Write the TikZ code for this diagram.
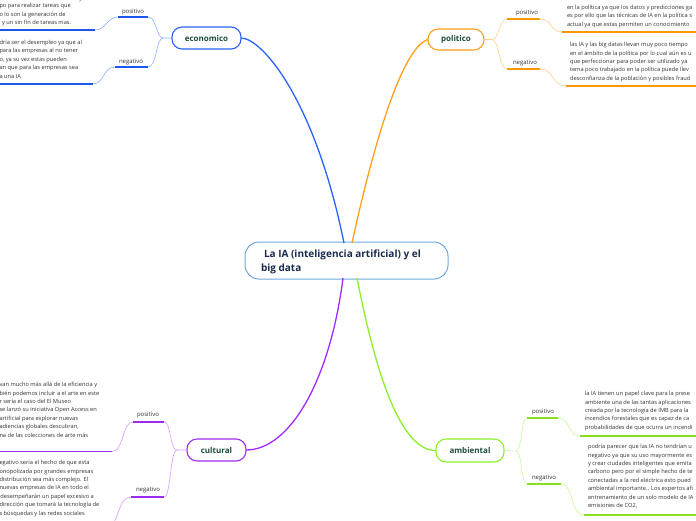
\documentclass[tikz,border=0pt]{standalone}
\usepackage{fontspec}
\setmainfont{Open Sans}
\definecolor{ecoMain}{HTML}{2962FF}
\definecolor{ecoBr}{HTML}{8AAEFF}
\definecolor{ecoUl}{HTML}{1E56F0}
\definecolor{polMain}{HTML}{FF9F1A}
\definecolor{polBr}{HTML}{FFD08A}
\definecolor{polUl}{HTML}{FF9800}
\definecolor{culMain}{HTML}{A12BFF}
\definecolor{culBr}{HTML}{D79BFF}
\definecolor{culUl}{HTML}{9A2BEF}
\definecolor{ambMain}{HTML}{8CF02A}
\definecolor{ambBr}{HTML}{C8F79A}
\definecolor{ambUl}{HTML}{86E01E}
\definecolor{rootBorder}{HTML}{6FA8DC}
\definecolor{rootText}{HTML}{1A2B4C}
\definecolor{topicText}{HTML}{1D4D3B}
\definecolor{bodyText}{HTML}{333333}
\begin{document}
\begin{tikzpicture}[x=1pt,y=-1pt,
  every node/.style={inner sep=0pt, outer sep=0pt},
  topic/.style={draw, rounded corners=10pt, line width=1.1pt, fill=white,
    font=\fontsize{8}{10}\selectfont\bfseries, text=topicText},
  lbl/.style={font=\fontsize{6}{7}\selectfont, text=bodyText, anchor=base},
  body/.style={font=\fontsize{5.7}{8.4}\selectfont, text=bodyText, align=left, anchor=north west},
  mainline/.style={line width=1.3pt},
  brline/.style={line width=0.6pt},
  ulline/.style={line width=1.3pt}
]
\useasboundingbox (0,0) rectangle (696,520);

% ---------- root ----------
\node[draw=rootBorder, line width=1pt, rounded corners=14pt, fill=white,
  minimum width=203pt, minimum height=37pt] (root) at (346.5,260.5) {};
\node[anchor=west, align=left, text=rootText,
  font=\fontsize{10}{14}\selectfont\bfseries] (rootTxt) at (261,261.5)
  {\hspace*{3pt}La IA (inteligencia artificial) y el\\big data};

% ---------- topics ----------
\node[topic, draw=ecoMain, minimum width=69pt, minimum height=22pt] (eco) at (206.5,38) {economico};
\node[topic, draw=polMain, minimum width=56pt, minimum height=21pt] (pol) at (456,39.5) {politico};
\node[topic, draw=culMain, minimum width=59pt, minimum height=22pt] (cul) at (216.5,450) {cultural};
\node[topic, draw=ambMain, minimum width=68pt, minimum height=23pt] (amb) at (470,450.5) {ambiental};

% ---------- main connectors ----------
\coordinate (rEco) at (344,243);
\coordinate (rPol) at (352,243);
\coordinate (rCul) at (343,278);
\coordinate (rAmb) at (357,278);
\draw[mainline, ecoMain] (rEco) .. controls (315,100) and (262,38) .. (eco.east);
\draw[mainline, polMain] (rPol) .. controls (370,160) and (400,48) .. (pol.west);
\draw[mainline, culMain] (rCul) .. controls (330,380) and (290,450) .. (cul.east);
\draw[mainline, ambMain] (rAmb) .. controls (375,370) and (400,451) .. (amb.west);

% ---------- economico branches ----------
\coordinate (ecoF) at (163,38);
\coordinate (ecopR) at (148,17); \coordinate (ecopL) at (118,17);
\coordinate (econR) at (148,67); \coordinate (econL) at (115,67);
\coordinate (ecopT) at (95,30);  \coordinate (ecopE) at (0,30);
\coordinate (econT) at (93,84);  \coordinate (econE) at (0,84);
\draw[brline, ecoBr] (eco.west) -- (ecoF) .. controls (156,38) and (157,17) .. (ecopR);
\draw[brline, ecoBr] (ecoF) .. controls (156,38) and (157,67) .. (econR);
\draw[ulline, ecoUl] (ecopR) -- (ecopL);
\draw[ulline, ecoUl] (econR) -- (econL);
\draw[brline, ecoBr] (ecopL) .. controls (107,17) and (106,30) .. (ecopT);
\draw[brline, ecoBr] (econL) .. controls (103,67) and (104,84) .. (econT);
\draw[ulline, ecoUl] (ecopT) -- (ecopE);
\draw[ulline, ecoUl] (econT) -- (econE);
\node[lbl] (ecopLab) at (133,13) {positivo};
\node[lbl] (econLab) at (131,63) {negativo};
\node[body, anchor=base west] (ecopY) at (79,0.5) {y};
\node[body] (ecopTxt) at (-0.5,3.3) {po para realizar tareas que\\o lo son la generación de\\\hspace*{2.5pt}y un sin fin de tareas mas.};
\node[body] (econTxt) at (-0.5,40.2) {dría ser el desempleo ya que al\\para las empresas al no tener\\o, ya su vez estas pueden\\an que para las empresas sea\\a una IA};

% ---------- politico branches ----------
\coordinate (polF) at (492,39.5);
\coordinate (polpL) at (507,19); \coordinate (polpR) at (540,19);
\coordinate (polnL) at (507,69); \coordinate (polnR) at (540,69);
\coordinate (polpT) at (562,32); \coordinate (polpE) at (696,32);
\coordinate (polnT) at (566,86); \coordinate (polnE) at (696,86);
\draw[brline, polBr] (pol.east) -- (polF) .. controls (499,39.5) and (499,19) .. (polpL);
\draw[brline, polBr] (polF) .. controls (499,39.5) and (499,69) .. (polnL);
\draw[ulline, polUl] (polpL) -- (polpR);
\draw[ulline, polUl] (polnL) -- (polnR);
\draw[brline, polBr] (polpR) .. controls (552,19) and (550,32) .. (polpT);
\draw[brline, polBr] (polnR) .. controls (554,69) and (552,86) .. (polnT);
\draw[ulline, polUl] (polpT) -- (polpE);
\draw[ulline, polUl] (polnT) -- (polnE);
\node[lbl] (polpLab) at (527,14) {positivo};
\node[lbl] (polnLab) at (525,64) {negativo};
\node[body] (polpTxt) at (567,4.9) {en la política ya que los datos y predicciones ga\\es por ello que las técnicas de IA en la política s\\actual ya que estas permiten un conocimiento};
\node[body] (polnTxt) at (570,42.4) {las IA y las big datas llevan muy poco tiempo\\en el ámbito de la política por lo cual aún es u\\que perfeccionar para poder ser utilizado ya\\tema poco trabajado en la política puede llev\\desconfianza de la población y posibles fraud};

% ---------- cultural branches ----------
\coordinate (culF) at (177,450);
\coordinate (culpR) at (164,422); \coordinate (culpL) at (133,422);
\coordinate (culnR) at (164,497); \coordinate (culnL) at (131,497);
\coordinate (culpT) at (112,451.5); \coordinate (culpE) at (0,451.5);
\coordinate (culnT) at (108,530);
\draw[brline, culBr] (cul.west) -- (culF) .. controls (170,450) and (171,422) .. (culpR);
\draw[brline, culBr] (culF) .. controls (170,450) and (171,497) .. (culnR);
\draw[ulline, culUl] (culpR) -- (culpL);
\draw[ulline, culUl] (culnR) -- (culnL);
\draw[brline, culBr] (culpL) .. controls (122,422) and (124,451.5) .. (culpT);
\draw[brline, culBr] (culnL) .. controls (118,497) and (120,520) .. (culnT);
\draw[ulline, culUl] (culpT) -- (culpE);
\node[lbl] (culpLab) at (148,416) {positivo};
\node[lbl] (culnLab) at (148,491) {negativo};
\node[body] (culpTxt) at (-0.5,382.4) {van mucho más allá de la eficiencia y\\bién podemos incluir a el arte en este\\r sería el caso del El Museo\\se lanzó su iniciativa Open Access en\\artificial para explorar nuevas\\adiencias globales descubran,\\na de las colecciones de arte más};
\node[body] (culnTxt) at (-0.5,460.4) {egativo sería el hecho de que esta\\onopolizada por grandes empresas\\distribución sea más complejo. El\\nuevas empresas de IA en todo el\\\hspace*{1pt}desempeñarán un papel excesivo a\\dirección que tomará la tecnología de\\s búsquedas y las redes sociales};

% ---------- ambiental branches ----------
\coordinate (ambF) at (516,451);
\coordinate (ambpL) at (527,418); \coordinate (ambpR) at (558,418);
\coordinate (ambnL) at (527,484); \coordinate (ambnR) at (561,484);
\coordinate (ambpT) at (580,436); \coordinate (ambpE) at (696,436);
\coordinate (ambnT) at (584,515); \coordinate (ambnE) at (696,515);
\draw[brline, ambBr] (amb.east) -- (ambF) .. controls (522,451) and (521,418) .. (ambpL);
\draw[brline, ambBr] (ambF) .. controls (522,451) and (521,484) .. (ambnL);
\draw[ulline, ambUl] (ambpL) -- (ambpR);
\draw[ulline, ambUl] (ambnL) -- (ambnR);
\draw[brline, ambBr] (ambpR) .. controls (570,418) and (568,436) .. (ambpT);
\draw[brline, ambBr] (ambnR) .. controls (574,484) and (570,515) .. (ambnT);
\draw[ulline, ambUl] (ambpT) -- (ambpE);
\draw[ulline, ambUl] (ambnT) -- (ambnE);
\node[lbl] (ambpLab) at (543,413) {positivo};
\node[lbl] (ambnLab) at (544,479) {negativo};
\node[body] (ambpTxt) at (585,391.4) {la IA tienen un papel clave para la prese\\ambiente una de las tantas aplicaciones\\creada por la tecnología de IMB para la\\incendios forestales que es capaz de ca\\probabilidades de que ocurra un incendi};
\node[body] (ambnTxt) at (588,444.4) {podría parecer que las IA no tendrían u\\negativo ya que su uso mayormente es\\y crear ciudades inteligentes que emita\\carbono pero por el simple hecho de te\\conectadas a la red eléctrica esto pued\\ambiental importante.. Los expertos afi\\entrenamiento de un solo modelo de IA\\emisiones de CO2,};
\end{tikzpicture}
\end{document}
